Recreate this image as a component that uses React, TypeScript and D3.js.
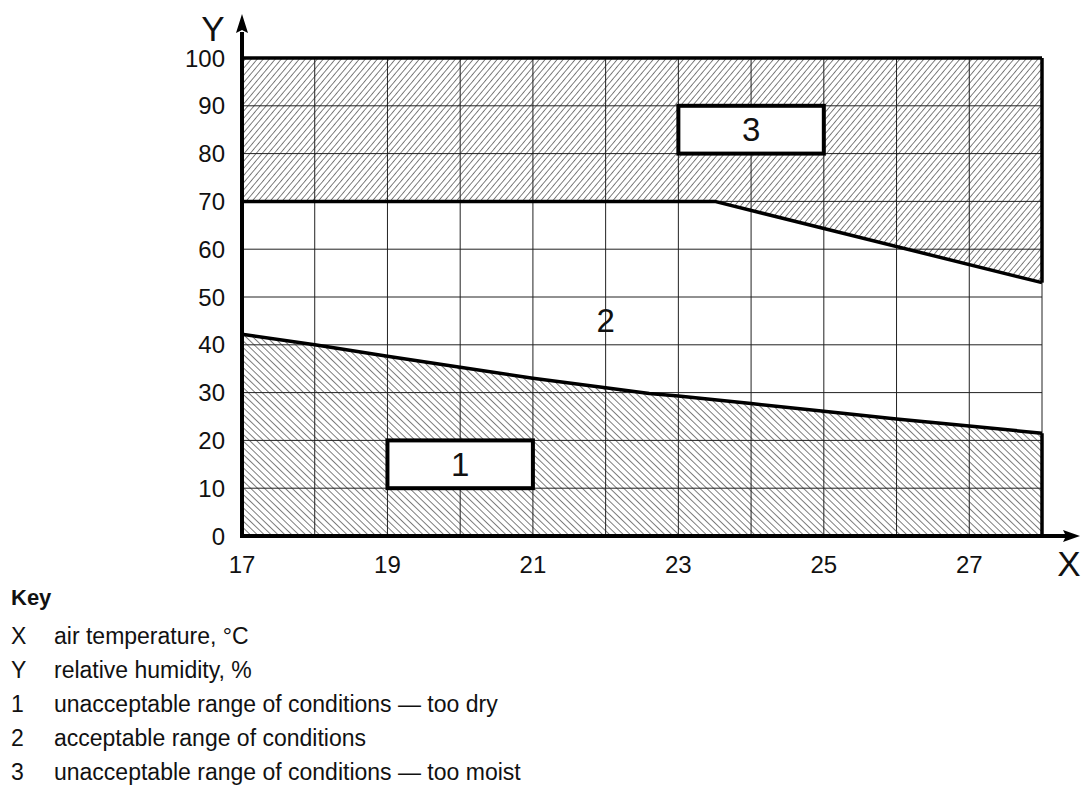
import React from "react";
import * as d3 from "d3";

// Axis ticks
const xTickLabels = [17, 19, 21, 23, 25, 27];
const yTickLabels = [0, 10, 20, 30, 40, 50, 60, 70, 80, 90, 100];
const xGrid = [17, 18, 19, 20, 21, 22, 23, 24, 25, 26, 27, 28];

// Boundary between "too dry" and acceptable (temperature °C, RH %)
const dryBoundary: [number, number][] = [
  [17, 42.2],
  [18, 40],
  [19, 37.6],
  [20, 35.3],
  [21, 33],
  [22, 31],
  [22.6, 29.8],
  [23, 29.3],
  [24, 27.7],
  [25, 26.1],
  [26, 24.5],
  [27, 23],
  [28, 21.5],
];

// Boundary between acceptable and "too moist"
const moistBoundary: [number, number][] = [
  [17, 70],
  [23.5, 70],
  [28, 53],
];

// Numbered zone labels: box extents (x0, x1, y0, y1) and label
const zoneBoxes = [
  { label: "3", x0: 23, x1: 25, y0: 80, y1: 90 },
  { label: "1", x0: 19, x1: 21, y0: 10, y1: 20 },
];
const zoneTwo = { label: "2", x: 22, y: 45 };

// Key entries
const keyItems: [string, string][] = [
  ["X", "air temperature, °C"],
  ["Y", "relative humidity, %"],
  ["1", "unacceptable range of conditions — too dry"],
  ["2", "acceptable range of conditions"],
  ["3", "unacceptable range of conditions — too moist"],
];

const FONT = "'Liberation Sans', Arial, Helvetica, sans-serif";

export default function App() {
  const x = d3.scaleLinear().domain([17, 28]).range([242, 1042]);
  const y = d3.scaleLinear().domain([0, 100]).range([536, 58]);
  const line = d3
    .line<[number, number]>()
    .x((d) => x(d[0]))
    .y((d) => y(d[1]));

  const dryArea = line([...dryBoundary, [28, 0], [17, 0]]) + "Z";
  const moistArea = line([...moistBoundary, [28, 100], [17, 100]]) + "Z";

  const x0 = x(17);
  const x1 = x(28);
  const yb = y(0);
  const yt = y(100);

  return (
    <svg
      width={1081}
      height={787}
      style={{ position: "absolute", left: 0, top: 0, background: "#fff" }}
      fontFamily={FONT}
    >
      <defs>
        <pattern
          id="hatchUp"
          width={4.6}
          height={10}
          patternUnits="userSpaceOnUse"
          patternTransform="rotate(40)"
        >
          <line x1={0} y1={0} x2={0} y2={10} stroke="#3a3a3a" strokeWidth={1.3} />
        </pattern>
        <pattern
          id="hatchDown"
          width={4.8}
          height={10}
          patternUnits="userSpaceOnUse"
          patternTransform="rotate(-46)"
        >
          <line x1={0} y1={0} x2={0} y2={10} stroke="#3a3a3a" strokeWidth={1.3} />
        </pattern>
      </defs>

      {/* hatched zones */}
      <path d={moistArea} fill="url(#hatchUp)" />
      <path d={dryArea} fill="url(#hatchDown)" />

      {/* grid */}
      <g stroke="#222" strokeWidth={1}>
        {xGrid.map((v) => (
          <line key={"gx" + v} x1={x(v)} x2={x(v)} y1={yt} y2={yb} />
        ))}
        {yTickLabels.map((v) => (
          <line key={"gy" + v} x1={x0} x2={x1} y1={y(v)} y2={y(v)} />
        ))}
      </g>

      {/* zone label boxes */}
      {zoneBoxes.map((b) => (
        <g key={b.label}>
          <rect
            x={x(b.x0)}
            y={y(b.y1)}
            width={x(b.x1) - x(b.x0)}
            height={y(b.y0) - y(b.y1)}
            fill="#fff"
            stroke="#000"
            strokeWidth={4}
          />
          <text
            x={(x(b.x0) + x(b.x1)) / 2}
            y={(y(b.y0) + y(b.y1)) / 2}
            textAnchor="middle"
            dominantBaseline="central"
            fontSize={33}
            fill="#111"
          >
            {b.label}
          </text>
        </g>
      ))}
      <text
        x={x(zoneTwo.x)}
        y={y(zoneTwo.y)}
        textAnchor="middle"
        dominantBaseline="central"
        fontSize={33}
        fill="#111"
      >
        {zoneTwo.label}
      </text>

      {/* zone boundaries */}
      <g fill="none" stroke="#000" strokeWidth={3.5} strokeLinejoin="round">
        <path d={line(dryBoundary) || ""} />
        <path d={line(moistBoundary) || ""} />
        <line x1={x0} x2={x1} y1={yt} y2={yt} />
        <line x1={x1} x2={x1} y1={yb} y2={y(dryBoundary[dryBoundary.length - 1][1])} />
        <line x1={x1} x2={x1} y1={yt} y2={y(moistBoundary[moistBoundary.length - 1][1])} />
      </g>

      {/* axes with arrows */}
      <g stroke="#000" strokeWidth={4}>
        <line x1={x0} x2={1066} y1={yb} y2={yb} />
        <line x1={x0} x2={x0} y1={yb + 2} y2={32} />
      </g>
      <path d={`M1080,${yb} L1063,${yb - 6} L1066,${yb} L1063,${yb + 6} Z`} fill="#000" />
      <path d={`M${x0},14 L${x0 - 6},33 L${x0},30 L${x0 + 6},33 Z`} fill="#000" />

      {/* tick labels */}
      <g fontSize={24} fill="#111">
        {yTickLabels.map((v) => (
          <text key={"yl" + v} x={225} y={y(v)} textAnchor="end" dominantBaseline="central">
            {v}
          </text>
        ))}
        {xTickLabels.map((v) => (
          <text key={"xl" + v} x={x(v)} y={564} textAnchor="middle" dominantBaseline="central">
            {v}
          </text>
        ))}
      </g>
      <text x={1069} y={563} textAnchor="middle" dominantBaseline="central" fontSize={35} fill="#111">
        X
      </text>
      <text x={213} y={28} textAnchor="middle" dominantBaseline="central" fontSize={35} fill="#111">
        Y
      </text>

      {/* key */}
      <text x={11} y={597} dominantBaseline="central" fontSize={22} fontWeight="bold" fill="#111">
        Key
      </text>
      {keyItems.map(([k, desc], i) => (
        <g key={k} fontSize={23} fill="#111">
          <text x={11} y={636 + i * 34} dominantBaseline="central">
            {k}
          </text>
          <text x={54} y={636 + i * 34} dominantBaseline="central">
            {desc}
          </text>
        </g>
      ))}
    </svg>
  );
}
